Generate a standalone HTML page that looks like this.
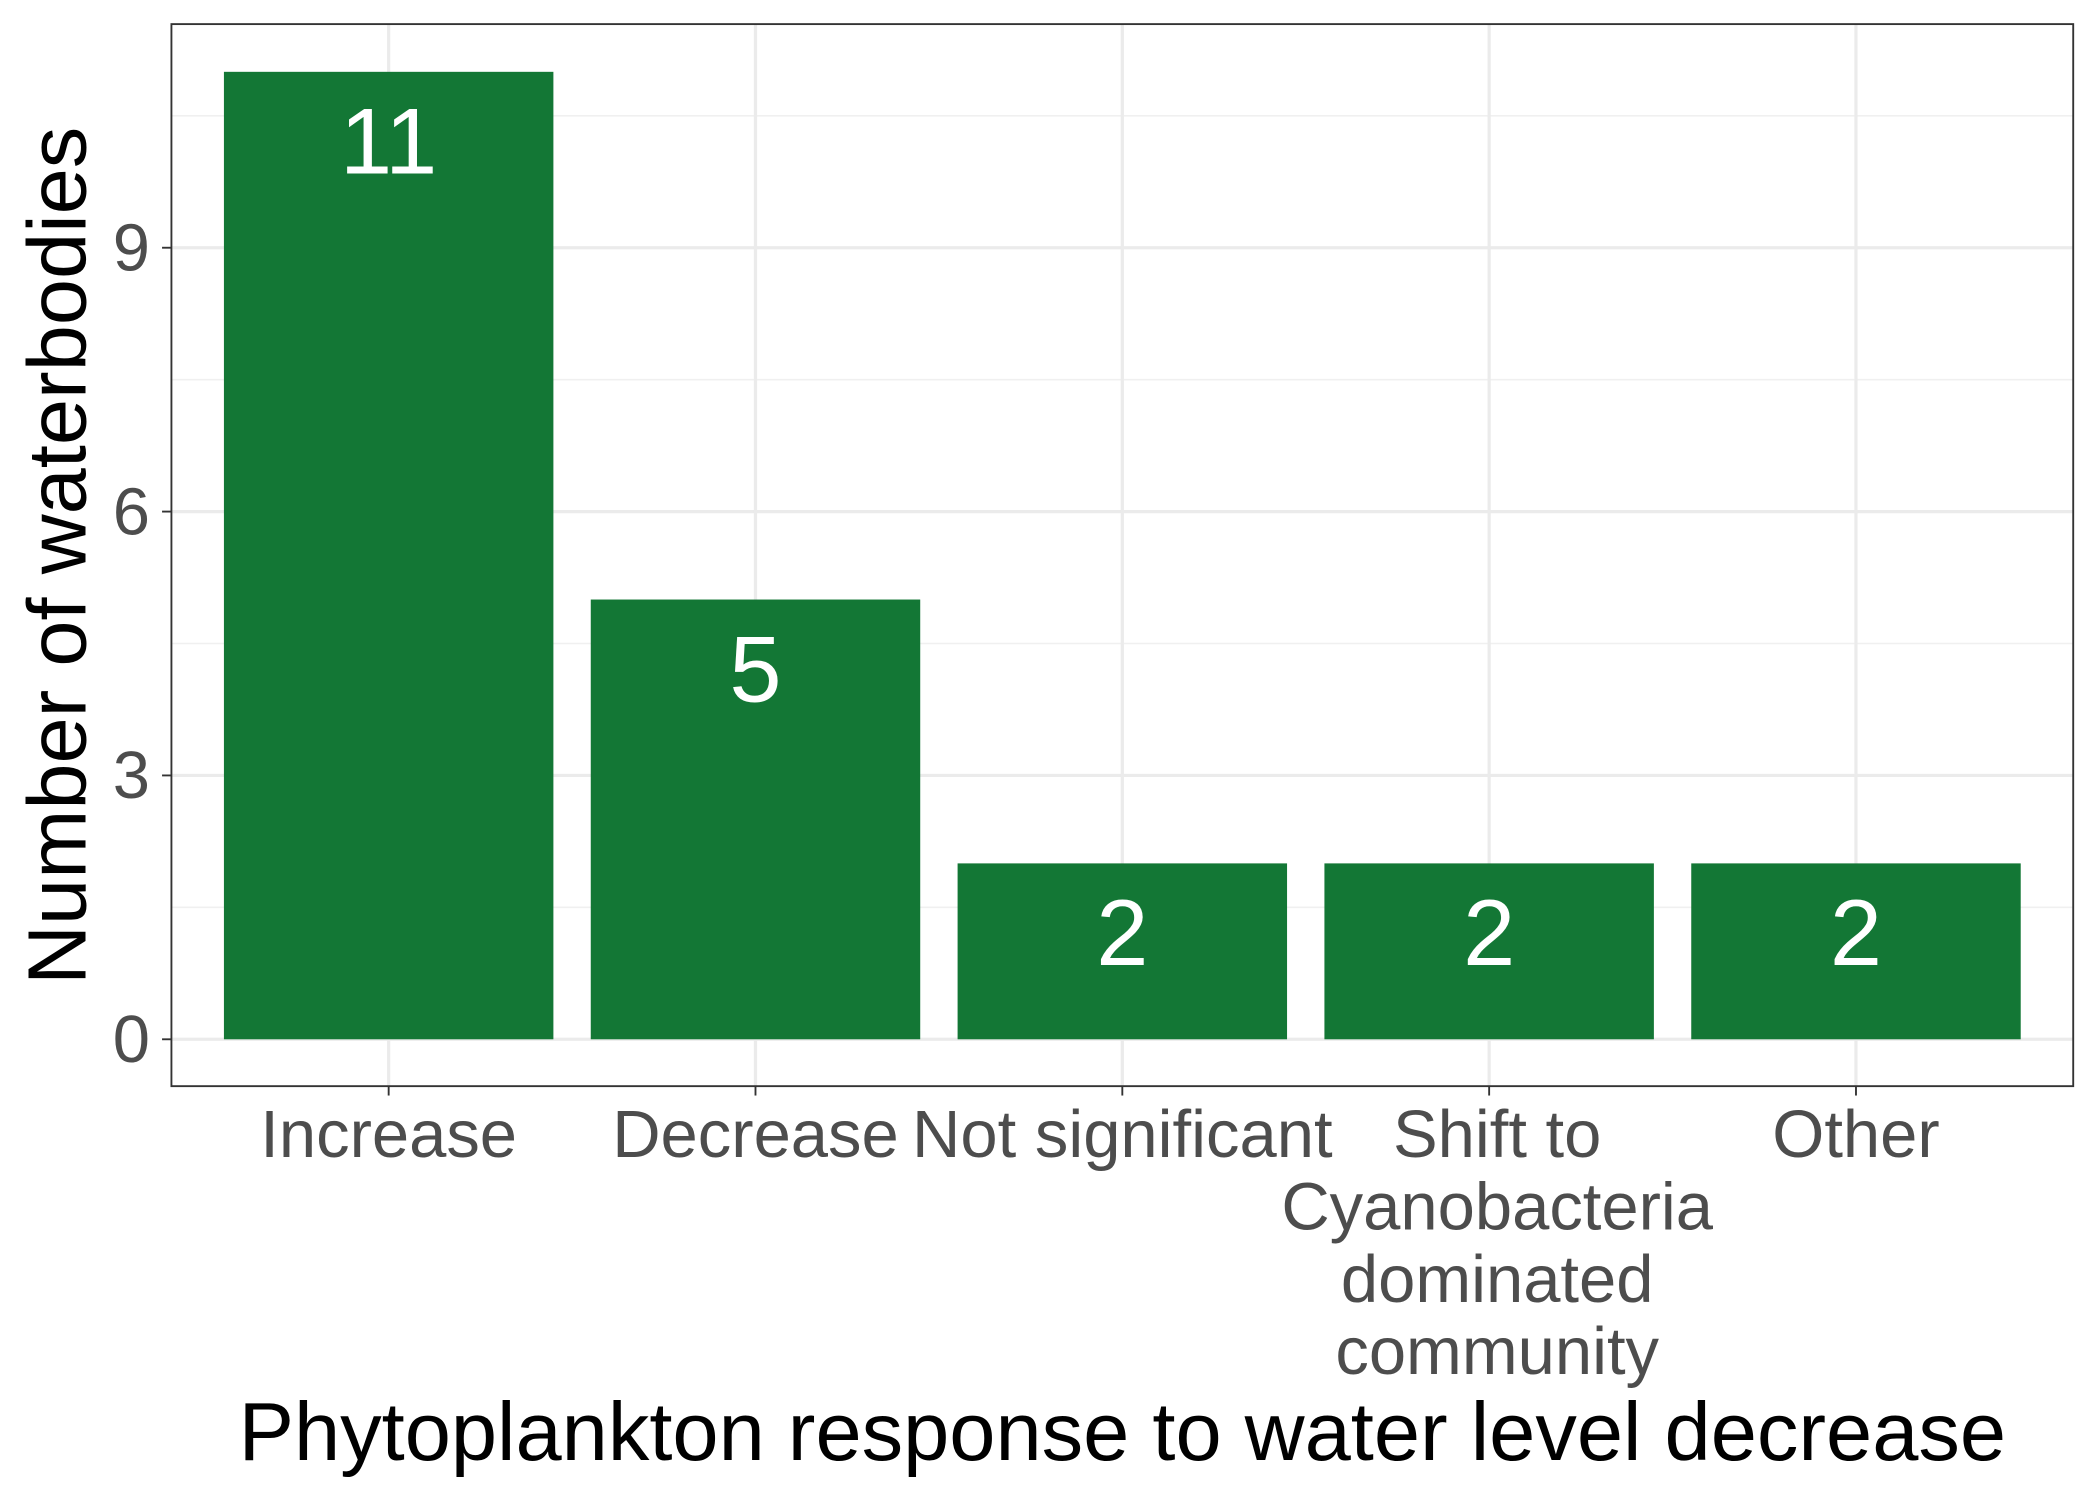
<!DOCTYPE html>
<html><head><meta charset="utf-8">
<style>
html,body{margin:0;padding:0;background:#fff;}
svg{display:block;font-family:"Liberation Sans",Arial,sans-serif;}
</style></head>
<body>
<svg id="chart" width="2100" height="1500" viewBox="0 0 1568 1120" preserveAspectRatio="none" xmlns="http://www.w3.org/2000/svg">
<rect x="0" y="0" width="1568" height="1120" fill="#fff"/>
<g id="grid"></g>
<g id="bars"></g>
<g id="labels"></g>
<rect x="128" y="18" width="1420" height="793" fill="none" stroke="#333" stroke-width="1.4"/>
<g id="axes"></g>
<text x="838" y="1090" font-size="62" text-anchor="middle" fill="#000">Phytoplankton response to water level decrease</text>
<text transform="translate(64,415) rotate(-90)" font-size="62" text-anchor="middle" fill="#000">Number of waterbodies</text>
</svg>
<script>
const categories = [["Increase"],["Decrease"],["Not significant"],["Shift to","Cyanobacteria","dominated","community"],["Other"]];
const values = [11,5,2,2,2];
const yTicks = [0,3,6,9];
const yMinor = [1.5,4.5,7.5,10.5];

const NS="http://www.w3.org/2000/svg";
const x0=128, x1=1548, yZero=776, pxPerUnit=65.67;
function xc(i){return x0+ (x1-x0)/2 + (i-(categories.length-1)/2)*273.9;}
function yv(v){return yZero - v*pxPerUnit;}
const bw=246;
function mk(tag,attrs,parent){const e=document.createElementNS(NS,tag);for(const k in attrs)e.setAttribute(k,attrs[k]);parent.appendChild(e);return e;}
const grid=document.getElementById('grid'),bars=document.getElementById('bars'),labels=document.getElementById('labels'),axes=document.getElementById('axes');
yMinor.forEach(v=>{const l=mk('line',{x1:x0,x2:x1,y1:yv(v),y2:yv(v),stroke:'#f0f0f0','stroke-width':1.2},grid);

});
yTicks.forEach(v=>{const l=mk('line',{x1:x0,x2:x1,y1:yv(v),y2:yv(v),stroke:'#ebebeb','stroke-width':2.4},grid);


const t=mk('line',{x1:x0-7,x2:x0,y1:yv(v),y2:yv(v),stroke:'#333','stroke-width':1.4},axes);


const tx=mk('text',{x:x0-16,y:yv(v)+17,'font-size':50,'text-anchor':'end',fill:'#4d4d4d'},axes);tx.textContent=v;

});
categories.forEach((c,i)=>{const x=xc(i);
const g=mk('line',{x1:x,x2:x,y1:18,y2:811,stroke:'#ebebeb','stroke-width':2.4},grid);


const r=mk('rect',{x:x-bw/2,y:yv(values[i]),width:bw,height:yv(0)-yv(values[i]),fill:'#137735'},bars);


const vl=mk('text',{x:x,y:yv(values[i])+76,'font-size':70,'text-anchor':'middle',fill:'#fff'},labels);vl.textContent=values[i];


const t=mk('line',{x1:x,x2:x,y1:811,y2:818,stroke:'#333','stroke-width':1.4},axes);


const tx=mk('text',{x:x+(c.length>1?6:0),y:864,'font-size':50,'text-anchor':'middle',fill:'#4d4d4d'},axes);


c.forEach((line,j)=>{const ts=mk('tspan',{x:x+(c.length>1?6:0),dy:j?54:0},tx);ts.textContent=line;});
});
</script>
</body></html>
